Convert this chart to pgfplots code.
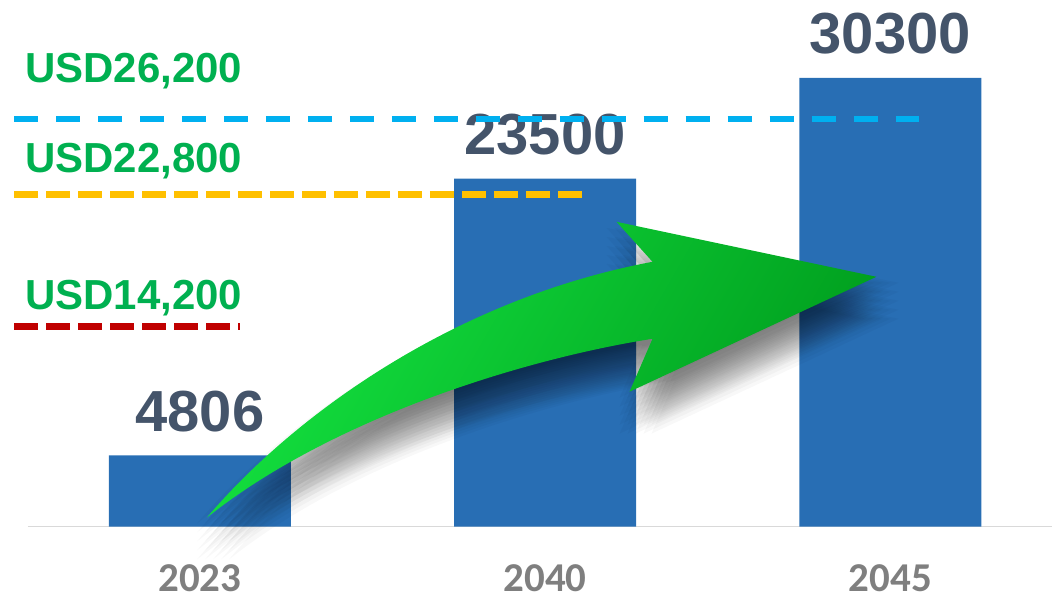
\documentclass[border=0pt]{standalone}
\usepackage{pgfplots}
\pgfplotsset{compat=1.18}
\usepackage{fontspec}
\setmainfont{Liberation Sans}
\newfontfamily\carlito{Carlito}
\definecolor{barblue}{RGB}{40,110,180}
\definecolor{valcol}{RGB}{68,84,106}
\definecolor{tickgray}{RGB}{127,127,127}
\definecolor{labgreen}{RGB}{0,176,80}
\definecolor{lcyan}{RGB}{0,176,240}
\definecolor{lyellow}{RGB}{255,192,0}
\definecolor{lred}{RGB}{192,0,0}
\definecolor{axgray}{RGB}{217,217,217}
\definecolor{arrowA}{RGB}{20,226,64}
\definecolor{arrowB}{RGB}{0,158,30}
\begin{document}
\begin{tikzpicture}
\begin{axis}[
  set layers,
  scale only axis,
  width=1025pt, height=527pt,
  xmin=-0.498, xmax=2.469,
  ymin=0, ymax=35564,
  clip=false,
  axis x line=bottom, axis y line=none,
  x axis line style={-, draw=axgray, line width=1.5pt},
  xtick={0,1,2}, xticklabels={2023,2040,2045},
  xtick style={draw=none},
  ytick=\empty,
  xticklabel style={anchor=base, inner sep=0pt, yshift=-63pt, text=tickgray,
    font=\carlito\bfseries\fontsize{41}{41}\selectfont},
]
\addplot[ybar, bar width=182pt, fill=barblue, draw=none,
  point meta=explicit symbolic,
  nodes near coords,
  nodes near coords style={anchor=base, inner sep=0pt, yshift=24pt, text=valcol,
    font=\bfseries\fontsize{58}{58}\selectfont}]
  coordinates {(0,4806)[4806] (1,23500)[23500] (2,30300)[30300]};
\addplot[on layer=axis foreground, lcyan, line width=6pt, dash pattern=on 24pt off 18pt]
  coordinates {(-0.538,27533) (2.084,27533)};
\addplot[on layer=axis foreground, lyellow, line width=7pt, dash pattern=on 24pt off 8pt]
  coordinates {(-0.538,22404) (1.106,22404)};
\addplot[on layer=axis foreground, lred, line width=7.5pt, dash pattern=on 24pt off 8pt]
  coordinates {(-0.538,13497) (0.116,13497)};
\end{axis}
\begin{scope}[shift={(-28pt,527pt)}, x=1pt, y=-1pt]
  \def\arrowpath{(207,518) .. controls (290,420) and (450,300) .. (653,262)
    -- (617,222) -- (877,277) -- (630,392) -- (653,339)
    .. controls (520,360) and (330,420) .. (207,518) -- cycle}
  \foreach \dx in {-10,-2,6,14,22}
    \foreach \dy in {6,15,24,33,42}
      \fill[black, opacity=0.028, shift={(\dx,\dy)}] \arrowpath;
  \shade[left color=arrowA, right color=arrowB, shading angle=60] \arrowpath;
  \node[anchor=base west, inner sep=0pt, text=labgreen, font=\bfseries\fontsize{42}{42}\selectfont] at (25,83) {USD26,200};
  \node[anchor=base west, inner sep=0pt, text=labgreen, font=\bfseries\fontsize{42}{42}\selectfont] at (25,173) {USD22,800};
  \node[anchor=base west, inner sep=0pt, text=labgreen, font=\bfseries\fontsize{42}{42}\selectfont] at (25,310) {USD14,200};
\end{scope}
\path[use as bounding box] (-28pt,-74pt) rectangle (1025pt,527pt);
\end{tikzpicture}
\end{document}
